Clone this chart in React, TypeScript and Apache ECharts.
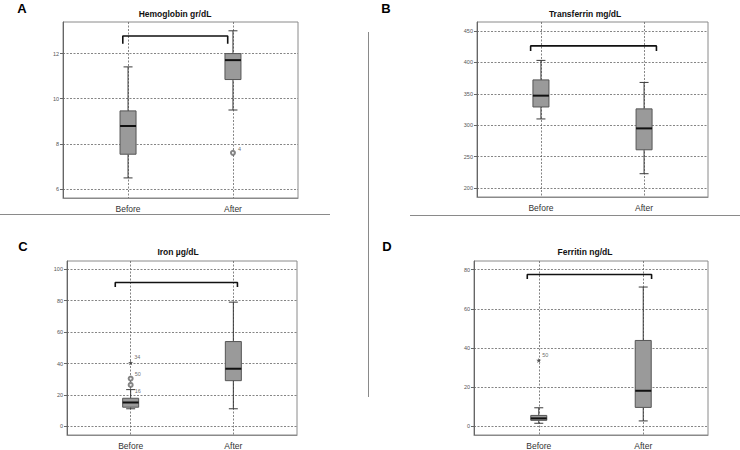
import React, { useEffect, useRef } from 'react';
import * as echarts from 'echarts';

const categories = ['Before', 'After'];
const panelLetters = ['A', 'B', 'C', 'D'];
const panelTitles = ['Hemoglobin gr/dL', 'Transferrin mg/dL', 'Iron µg/dL', 'Ferritin ng/dL'];

// [min, Q1, median, Q3, max] for Before, After
const hemoglobinBox = [[6.49, 7.54, 8.79, 9.46, 11.41], [9.5, 10.85, 11.71, 12.0, 13.01]];
const transferrinBox = [[310, 329, 347, 372, 403], [223, 261, 295, 326, 368]];
const ironBox = [[11.2, 12.2, 15.2, 17.9, 23.4], [11.2, 29.1, 36.7, 54.0, 79.1]];
const ferritinBox = [[1.5, 3.0, 4.0, 5.5, 9.4], [2.7, 9.6, 18.1, 43.8, 71.1]];

// outliers: [categoryIndex, value, case label, kind ('o' outlier, '*' extreme)]
const hemoglobinOutliers: [number, number, string, string][] = [[1, 7.6, '4', 'o']];
const transferrinOutliers: [number, number, string, string][] = [];
const ironOutliers: [number, number, string, string][] = [[0, 40.5, '34', '*'], [0, 30.4, '50', 'o'], [0, 26.4, '16', 'o']];
const ferritinOutliers: [number, number, string, string][] = [[0, 33.6, '50', '*']];

// significance bracket: [xStart, xEnd, yEnds, yTop]
const hemoglobinBracket = [-0.05, 0.95, 12.44, 12.78];
const transferrinBracket = [-0.1, 1.12, 418, 426];
const ironBracket = [-0.15, 1.04, 88.8, 91.6];
const ferritinBracket = [-0.11, 1.08, 75.2, 77.5];

// y tick labels and axis ranges
const hemoglobinTicks = [6, 8, 10, 12];
const transferrinTicks = [200, 250, 300, 350, 400, 450];
const ironTicks = [0, 20, 40, 60, 80, 100];
const ferritinTicks = [0, 20, 40, 60, 80];
const hemoglobinRange = [5.6, 13.4];
const transferrinRange = [186, 464];
const ironRange = [-5.5, 105.3];
const ferritinRange = [-4.5, 84.4];

const FONT = 'Liberation Sans, Arial, sans-serif';

const panels = [
  { box: hemoglobinBox, out: hemoglobinOutliers, br: hemoglobinBracket, ticks: hemoglobinTicks, range: hemoglobinRange,
    grid: { left: 63, top: 22, width: 235, height: 176 }, title: [175, 14], letter: [22, 8] },
  { box: transferrinBox, out: transferrinOutliers, br: transferrinBracket, ticks: transferrinTicks, range: transferrinRange,
    grid: { left: 477, top: 22, width: 231, height: 175 }, title: [585, 14], letter: [386, 8] },
  { box: ironBox, out: ironOutliers, br: ironBracket, ticks: ironTicks, range: ironRange,
    grid: { left: 67, top: 261, width: 230, height: 175 }, title: [178, 252], letter: [23, 246] },
  { box: ferritinBox, out: ferritinOutliers, br: ferritinBracket, ticks: ferritinTicks, range: ferritinRange,
    grid: { left: 474, top: 261, width: 234, height: 176 }, title: [585, 252], letter: [387, 246] },
];

// label offsets for outlier case numbers (panel index -> per-point [dx, dy])
const outlierLabelOffsets: number[][][] = [
  [[1, -4]],
  [],
  [[0, -6], [0, -5], [0, 6]],
  [[0, -5]],
];

const STAR = 'path://M5,0 L6.2,3.6 L10,3.8 L7,6.2 L8.1,10 L5,7.8 L1.9,10 L3,6.2 L0,3.8 L3.8,3.6 Z';

function buildOption() {
  const grid: any[] = [];
  const xAxis: any[] = [];
  const yAxis: any[] = [];
  const series: any[] = [];
  const graphic: any[] = [];

  panels.forEach((p, i) => {
    grid.push({ ...p.grid, show: true, borderColor: '#8a8a8a', borderWidth: 1, backgroundColor: 'transparent' });
    xAxis.push({
      type: 'value', gridIndex: i, min: -0.62, max: 1.62,
      axisLine: { show: true, onZero: false, lineStyle: { color: '#8a8a8a' } },
      axisTick: { show: false, customValues: [0, 1] },
      axisLabel: { customValues: [0, 1], formatter: (v: number) => categories[Math.round(v)] ?? '', fontSize: 8.5, color: '#333', fontFamily: FONT, margin: 6 },
      splitLine: { show: true, lineStyle: { color: '#666', type: [2, 1.5], width: 0.8 } },
    });
    yAxis.push({
      type: 'value', gridIndex: i, min: p.range[0], max: p.range[1],
      axisLine: { show: true, onZero: false, lineStyle: { color: '#666' } },
      axisTick: { show: true, customValues: p.ticks, length: 3, lineStyle: { color: '#666' } },
      axisLabel: { customValues: p.ticks, fontSize: 5.5, color: '#555', fontFamily: FONT, margin: 4 },
      splitLine: { show: true, lineStyle: { color: '#666', type: [2, 1.5], width: 0.8 } },
    });

    series.push({
      type: 'custom', xAxisIndex: i, yAxisIndex: i,
      data: p.box.map((b, k) => [k, ...b]),
      encode: { x: 0, y: [1, 2, 3, 4, 5] },
      renderItem: (_params: any, api: any) => {
        const x = api.value(0);
        const lo = api.coord([x, api.value(1)]);
        const q1 = api.coord([x, api.value(2)]);
        const med = api.coord([x, api.value(3)]);
        const q3 = api.coord([x, api.value(4)]);
        const hi = api.coord([x, api.value(5)]);
        const cx = lo[0];
        const bw = 16;
        const cw = 9;
        const ws = { stroke: '#3a3a3a', lineWidth: 1 };
        return {
          type: 'group',
          children: [
            { type: 'line', shape: { x1: cx, y1: hi[1], x2: cx, y2: q3[1] }, style: ws },
            { type: 'line', shape: { x1: cx, y1: q1[1], x2: cx, y2: lo[1] }, style: ws },
            { type: 'line', shape: { x1: cx - cw / 2, y1: hi[1], x2: cx + cw / 2, y2: hi[1] }, style: ws },
            { type: 'line', shape: { x1: cx - cw / 2, y1: lo[1], x2: cx + cw / 2, y2: lo[1] }, style: ws },
            { type: 'rect', shape: { x: cx - bw / 2, y: q3[1], width: bw, height: q1[1] - q3[1] }, style: { fill: '#9a9a9a', stroke: '#555', lineWidth: 1 } },
            { type: 'line', shape: { x1: cx - bw / 2, y1: med[1], x2: cx + bw / 2, y2: med[1] }, style: { stroke: '#111', lineWidth: 2 } },
          ],
        };
      },
      z: 3,
    });

    if (p.out.length) {
      series.push({
        type: 'scatter', xAxisIndex: i, yAxisIndex: i,
        data: p.out.map((o, k) => ({
          value: [o[0], o[1]],
          name: o[2],
          symbol: o[3] === '*' ? STAR : 'emptyCircle',
          symbolSize: o[3] === '*' ? 5 : 4,
          itemStyle: o[3] === '*' ? { color: '#333' } : { color: '#666', borderWidth: 0.8 },
          label: { offset: outlierLabelOffsets[i][k] || [0, -4] },
        })),
        label: { show: true, position: 'right', distance: 1, formatter: (d: any) => d.name, fontSize: 5.5, color: '#444', fontFamily: FONT },
        z: 4,
      });
    }

    const b = p.br;
    series.push({
      type: 'line', xAxisIndex: i, yAxisIndex: i,
      data: [[b[0], b[2]], [b[0], b[3]], [b[1], b[3]], [b[1], b[2]]],
      symbol: 'none', lineStyle: { color: '#111', width: 1.6 }, z: 5, silent: true,
    });

    graphic.push({
      type: 'text', x: p.title[0], y: p.title[1],
      style: { text: panelTitles[i], font: `bold 8.5px ${FONT}`, fill: '#111', textAlign: 'center', textVerticalAlign: 'middle' },
    });
    graphic.push({
      type: 'text', x: p.letter[0], y: p.letter[1],
      style: { text: panelLetters[i], font: `bold 13px ${FONT}`, fill: '#000', textAlign: 'center', textVerticalAlign: 'middle' },
    });
  });

  // panel separators
  graphic.push({ type: 'line', shape: { x1: 0, y1: 214.5, x2: 330, y2: 214.5 }, style: { stroke: '#8a8a8a', lineWidth: 1 } });
  graphic.push({ type: 'line', shape: { x1: 410, y1: 215.5, x2: 740, y2: 215.5 }, style: { stroke: '#8a8a8a', lineWidth: 1 } });
  graphic.push({ type: 'line', shape: { x1: 368.5, y1: 32, x2: 368.5, y2: 397 }, style: { stroke: '#8a8a8a', lineWidth: 1 } });

  return { animation: false, backgroundColor: '#fff', grid, xAxis, yAxis, series, graphic };
}

export default function App() {
  const ref = useRef<HTMLDivElement>(null);
  useEffect(() => {
    if (!ref.current) return;
    const chart = echarts.init(ref.current, undefined, { renderer: 'svg' });
    chart.setOption(buildOption() as any);
    return () => chart.dispose();
  }, []);
  return <div ref={ref} style={{ position: 'fixed', left: 0, top: 0, width: 740, height: 450, overflow: 'hidden' }} />;
}
